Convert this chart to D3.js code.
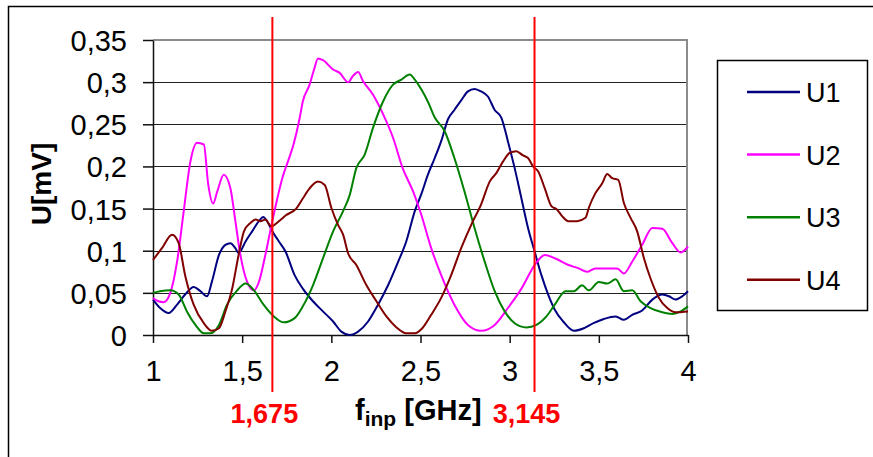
<!DOCTYPE html>
<html>
<head>
<meta charset="utf-8">
<script src="https://cdn.jsdelivr.net/npm/d3@7"></script>
<style>
  body { margin: 0; background: #fff; }
  svg { display: block; font-family: "Liberation Sans", Arial, sans-serif; }
</style>
</head>
<body>
<div id="chart"></div>
<script>
// values: [f in GHz, U in mV]
const u1 = [[1.0,0.042],[1.04,0.032],[1.088,0.026],[1.135,0.036],[1.18,0.048],[1.228,0.057],[1.266,0.052],[1.303,0.046],[1.33,0.063],[1.37,0.095],[1.406,0.107],[1.434,0.109],[1.462,0.103],[1.48,0.097],[1.519,0.111],[1.556,0.123],[1.594,0.135],[1.618,0.14],[1.64,0.135],[1.669,0.123],[1.706,0.111],[1.743,0.099],[1.794,0.071],[1.84,0.055],[1.897,0.040],[1.953,0.028],[2.01,0.016],[2.056,0.004],[2.103,0.0],[2.15,0.004],[2.206,0.016],[2.262,0.036],[2.318,0.059],[2.375,0.087],[2.42,0.111],[2.468,0.147],[2.506,0.168],[2.541,0.19],[2.58,0.21],[2.616,0.23],[2.654,0.256],[2.69,0.267],[2.73,0.279],[2.766,0.289],[2.803,0.292],[2.84,0.289],[2.878,0.283],[2.916,0.267],[2.953,0.258],[2.99,0.23],[3.028,0.198],[3.066,0.162],[3.103,0.127],[3.14,0.099],[3.178,0.071],[3.216,0.048],[3.253,0.030],[3.30,0.016],[3.36,0.005],[3.416,0.008],[3.47,0.014],[3.528,0.019],[3.594,0.022],[3.64,0.018],[3.687,0.024],[3.743,0.029],[3.8,0.042],[3.856,0.048],[3.893,0.046],[3.93,0.042],[3.968,0.046],[4.0,0.052]]

const u2 = [[1.0,0.044],[1.03,0.04],[1.06,0.039],[1.097,0.05],[1.135,0.087],[1.17,0.143],[1.21,0.206],[1.247,0.228],[1.285,0.226],[1.31,0.178],[1.337,0.156],[1.36,0.17],[1.397,0.19],[1.434,0.174],[1.462,0.135],[1.49,0.095],[1.528,0.063],[1.566,0.053],[1.594,0.063],[1.63,0.095],[1.669,0.135],[1.725,0.186],[1.77,0.214],[1.785,0.224],[1.823,0.258],[1.84,0.277],[1.878,0.297],[1.906,0.317],[1.925,0.328],[1.953,0.326],[2.01,0.315],[2.047,0.311],[2.094,0.30],[2.12,0.307],[2.15,0.312],[2.178,0.301],[2.234,0.285],[2.29,0.262],[2.346,0.234],[2.40,0.198],[2.459,0.17],[2.504,0.143],[2.56,0.103],[2.616,0.071],[2.69,0.036],[2.766,0.012],[2.84,0.005],[2.916,0.012],[2.99,0.032],[3.066,0.055],[3.14,0.083],[3.197,0.095],[3.253,0.091],[3.33,0.083],[3.387,0.079],[3.434,0.075],[3.48,0.079],[3.537,0.079],[3.603,0.079],[3.64,0.073],[3.687,0.087],[3.743,0.107],[3.8,0.127],[3.856,0.126],[3.912,0.109],[3.959,0.098],[4.0,0.105]]

const u3 = [[1.0,0.05],[1.04,0.052],[1.097,0.053],[1.144,0.048],[1.19,0.028],[1.238,0.012],[1.285,0.002],[1.32,0.002],[1.37,0.012],[1.415,0.036],[1.472,0.053],[1.519,0.061],[1.566,0.053],[1.62,0.036],[1.678,0.022],[1.734,0.015],[1.794,0.02],[1.84,0.034],[1.897,0.059],[1.953,0.091],[2.01,0.123],[2.066,0.147],[2.103,0.166],[2.14,0.198],[2.187,0.214],[2.234,0.246],[2.29,0.277],[2.346,0.297],[2.393,0.303],[2.44,0.309],[2.468,0.303],[2.506,0.291],[2.541,0.277],[2.58,0.258],[2.635,0.242],[2.69,0.21],[2.747,0.17],[2.803,0.127],[2.86,0.087],[2.916,0.052],[2.972,0.028],[3.028,0.014],[3.094,0.009],[3.15,0.012],[3.206,0.022],[3.253,0.036],[3.313,0.052],[3.36,0.052],[3.406,0.059],[3.444,0.053],[3.5,0.063],[3.547,0.061],[3.594,0.066],[3.64,0.052],[3.687,0.053],[3.734,0.040],[3.79,0.032],[3.856,0.027],[3.912,0.025],[3.959,0.028],[4.0,0.034]]

const u4 = [[1.0,0.089],[1.05,0.103],[1.107,0.119],[1.144,0.109],[1.18,0.071],[1.228,0.036],[1.285,0.014],[1.33,0.005],[1.37,0.008],[1.406,0.028],[1.444,0.055],[1.48,0.095],[1.51,0.123],[1.547,0.133],[1.575,0.137],[1.603,0.135],[1.63,0.137],[1.663,0.129],[1.706,0.135],[1.745,0.142],[1.803,0.15],[1.84,0.162],[1.878,0.174],[1.925,0.182],[1.963,0.178],[2.0,0.151],[2.037,0.131],[2.066,0.119],[2.094,0.097],[2.14,0.083],[2.197,0.059],[2.253,0.040],[2.309,0.022],[2.365,0.009],[2.42,0.002],[2.468,0.002],[2.51,0.008],[2.56,0.024],[2.616,0.044],[2.672,0.071],[2.728,0.103],[2.785,0.131],[2.84,0.155],[2.888,0.182],[2.925,0.192],[2.963,0.206],[3.0,0.216],[3.037,0.218],[3.075,0.213],[3.103,0.21],[3.131,0.20],[3.16,0.194],[3.197,0.174],[3.234,0.153],[3.265,0.149],[3.294,0.141],[3.331,0.135],[3.378,0.135],[3.425,0.139],[3.444,0.151],[3.48,0.168],[3.519,0.18],[3.547,0.191],[3.575,0.186],[3.609,0.184],[3.64,0.157],[3.678,0.139],[3.715,0.123],[3.753,0.091],[3.79,0.067],[3.837,0.044],[3.884,0.032],[3.93,0.027],[4.0,0.028]]

const seriesNames = ['U1', 'U2', 'U3', 'U4']
const seriesColors = ['#000080', '#ff00ff', '#008000', '#800000']
const seriesValues = [u1, u2, u3, u4]

const xTicks = [1, 1.5, 2, 2.5, 3, 3.5, 4]
const yTicks = [0, 0.05, 0.1, 0.15, 0.2, 0.25, 0.3, 0.35]
const markers = [1.675, 3.145]
const markerLabels = ['1,675', '3,145']

const width = 873
const height = 457
const plot = { left: 153, top: 40, right: 688, bottom: 335 }

const comma = d3.formatLocale({ decimal: ',', thousands: '.', grouping: [3], currency: ['', ''] })
const fmt = comma.format('~g')

const svg = d3.select('#chart')
  .append('svg')
  .attr('width', width)
  .attr('height', height)

// outer chart frame (cut off at right and bottom)
svg.append('rect')
  .attr('x', 8.5)
  .attr('y', 6.5)
  .attr('width', 900)
  .attr('height', 500)
  .attr('fill', 'none')
  .attr('stroke', '#000')
  .attr('stroke-width', 1.5)

const x = d3.scaleLinear().domain([1, 4]).range([plot.left, plot.right])
const y = d3.scaleLinear().domain([0, 0.35]).range([plot.bottom, plot.top])

// gridlines
svg.append('g')
  .selectAll('line')
  .data(yTicks.filter(d => d > 0 && d < 0.35))
  .join('line')
  .attr('x1', plot.left)
  .attr('x2', plot.right - 1)
  .attr('y1', d => Math.round(y(d)) + 0.5)
  .attr('y2', d => Math.round(y(d)) + 0.5)
  .attr('stroke', '#222')
  .attr('stroke-width', 1)

// plot area border (top and right, grey)
svg.append('path')
  .attr('d', `M${plot.left},${plot.top} H${plot.right - 1} V${plot.bottom}`)
  .attr('fill', 'none')
  .attr('stroke', '#8c8c8c')
  .attr('stroke-width', 2)

// axes
const yAxis = svg.append('g')
  .attr('transform', `translate(${plot.left}, 0)`)
  .call(d3.axisLeft(y).tickValues(yTicks).tickFormat(fmt).tickSize(10).tickPadding(16).tickSizeOuter(0))

const xAxis = svg.append('g')
  .attr('transform', `translate(0, ${plot.bottom})`)
  .call(d3.axisBottom(x).tickValues(xTicks).tickFormat(fmt).tickSize(8).tickPadding(17).tickSizeOuter(0))

svg.selectAll('.tick text')
  .attr('font-family', '"Liberation Sans", Arial, sans-serif')
  .attr('font-size', 29)
  .attr('fill', '#000')
svg.selectAll('.domain, .tick line').attr('stroke', '#111').attr('stroke-width', 1.5)
yAxis.selectAll('.tick text').attr('dy', '0.36em')

// curves
const line = d3.line()
  .x(d => x(d[0]))
  .y(d => y(d[1]))
  .curve(d3.curveMonotoneX)

svg.append('g')
  .selectAll('path')
  .data(seriesValues)
  .join('path')
  .attr('d', line)
  .attr('fill', 'none')
  .attr('stroke', (d, i) => seriesColors[i])
  .attr('stroke-width', 2)
  .attr('stroke-linejoin', 'round')

// red marker lines
svg.append('g')
  .selectAll('line')
  .data(markers)
  .join('line')
  .attr('x1', d => x(d) - 1)
  .attr('x2', d => x(d) - 1)
  .attr('y1', 17)
  .attr('y2', 392)
  .attr('stroke', '#ff0000')
  .attr('stroke-width', 2)

svg.append('g')
  .selectAll('text')
  .data(markers)
  .join('text')
  .attr('x', d => x(d) - 9)
  .attr('y', 423)
  .attr('text-anchor', 'middle')
  .attr('font-size', 27)
  .attr('font-weight', 'bold')
  .attr('fill', '#ff0000')
  .text((d, i) => markerLabels[i])

// axis titles
const xTitle = svg.append('text')
  .attr('x', 355)
  .attr('y', 420)
  .attr('font-size', 29)
  .attr('font-weight', 'bold')
xTitle.append('tspan').text('f')
xTitle.append('tspan').attr('font-size', 21).attr('dy', 6).text('inp')
xTitle.append('tspan').attr('dy', -6).text(' [GHz]')

svg.append('text')
  .attr('transform', 'translate(51, 184) rotate(-90)')
  .attr('text-anchor', 'middle')
  .attr('font-size', 28)
  .attr('font-weight', 'bold')
  .text('U[mV]')

// legend
const legend = svg.append('g')
legend.append('rect')
  .attr('x', 717.5)
  .attr('y', 60.5)
  .attr('width', 150)
  .attr('height', 250)
  .attr('fill', '#fff')
  .attr('stroke', '#000')
  .attr('stroke-width', 1.5)

const legendItems = legend.selectAll('g')
  .data(seriesNames)
  .join('g')
  .attr('transform', (d, i) => `translate(0, ${92 + i * 62.6})`)

legendItems.append('line')
  .attr('x1', 747)
  .attr('x2', 800)
  .attr('stroke', (d, i) => seriesColors[i])
  .attr('stroke-width', 2.5)

legendItems.append('text')
  .attr('x', 806)
  .attr('y', 10)
  .attr('font-size', 27)
  .text(d => d)
</script>
</body>
</html>
